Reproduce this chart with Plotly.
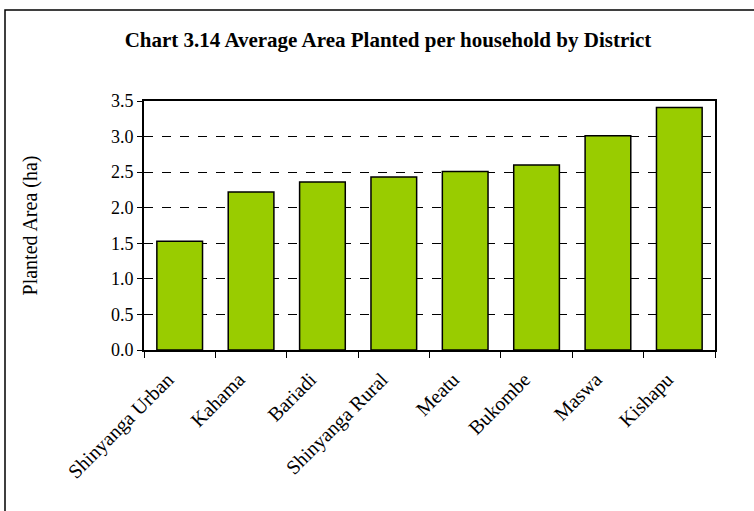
import plotly.graph_objects as go

districts = ["Shinyanga Urban", "Kahama", "Bariadi", "Shinyanga Rural",
             "Meatu", "Bukombe", "Maswa", "Kishapu"]
planted_area = [1.53, 2.22, 2.36, 2.43, 2.51, 2.60, 3.01, 3.41]
y_ticks = [0.0, 0.5, 1.0, 1.5, 2.0, 2.5, 3.0, 3.5]
y_tick_labels = ["0.0", "0.5", "1.0", "1.5", "2.0", "2.5", "3.0", "3.5"]

W, H = 754, 511
L, R, T, B = 144, 39, 101, 161
pw, ph = W - L - R, H - T - B

def px(x):
    return (x - L) / pw

def py(y):
    return (H - B - y) / ph

fig = go.Figure()
fig.add_trace(go.Bar(
    x=districts, y=planted_area,
    marker=dict(color="#99CC00", line=dict(color="#000000", width=1.5)),
    width=0.64,
))

font_family = "Liberation Serif, Times New Roman, serif"
fig.update_layout(
    width=W, height=H,
    margin=dict(l=L, r=R, t=T, b=B, pad=0),
    paper_bgcolor="white", plot_bgcolor="white",
    showlegend=False,
    font=dict(family=font_family, color="black", size=18),
    title=dict(text="<b>Chart 3.14 Average Area Planted per household by District</b>",
               x=px(388), xref="paper", xanchor="center",
               y=1 - 40 / H, yanchor="middle",
               font=dict(family=font_family, size=21, color="black")),
    xaxis=dict(
        type="category", tickson="boundaries", ticks="outside", ticklen=6,
        tickcolor="black", tickwidth=1, tickangle=-45,
        ticklabelstandoff=8, ticklabelshift=-12,
        showline=True, linecolor="black", linewidth=2, mirror=True,
        showgrid=False, tickfont=dict(size=20, family=font_family),
    ),
    yaxis=dict(
        range=[0, 3.5], tickvals=y_ticks, ticktext=y_tick_labels,
        ticks="outside", ticklen=5, tickcolor="black", tickwidth=1,
        showline=True, linecolor="black", linewidth=2, mirror=True,
        showgrid=True, gridcolor="black", griddash="dash", gridwidth=1,
        zeroline=False, tickfont=dict(size=18, family=font_family),
        title=dict(text="Planted Area (ha)", standoff=68,
                   font=dict(size=20, family=font_family)),
    ),
    shapes=[dict(type="rect", xref="paper", yref="paper",
                 x0=px(5), x1=px(W + 20), y0=py(H + 20), y1=py(10),
                 line=dict(color="black", width=1.5), layer="below")],
)

fig.write_html("out.html", config={"displayModeBar": False})
with open("out.html", "r", encoding="utf-8") as f:
    html = f.read()
html = html.replace("<head>", "<head><style>html,body{margin:0;padding:0;overflow:hidden;}</style>", 1)
with open("out.html", "w", encoding="utf-8") as f:
    f.write(html)
